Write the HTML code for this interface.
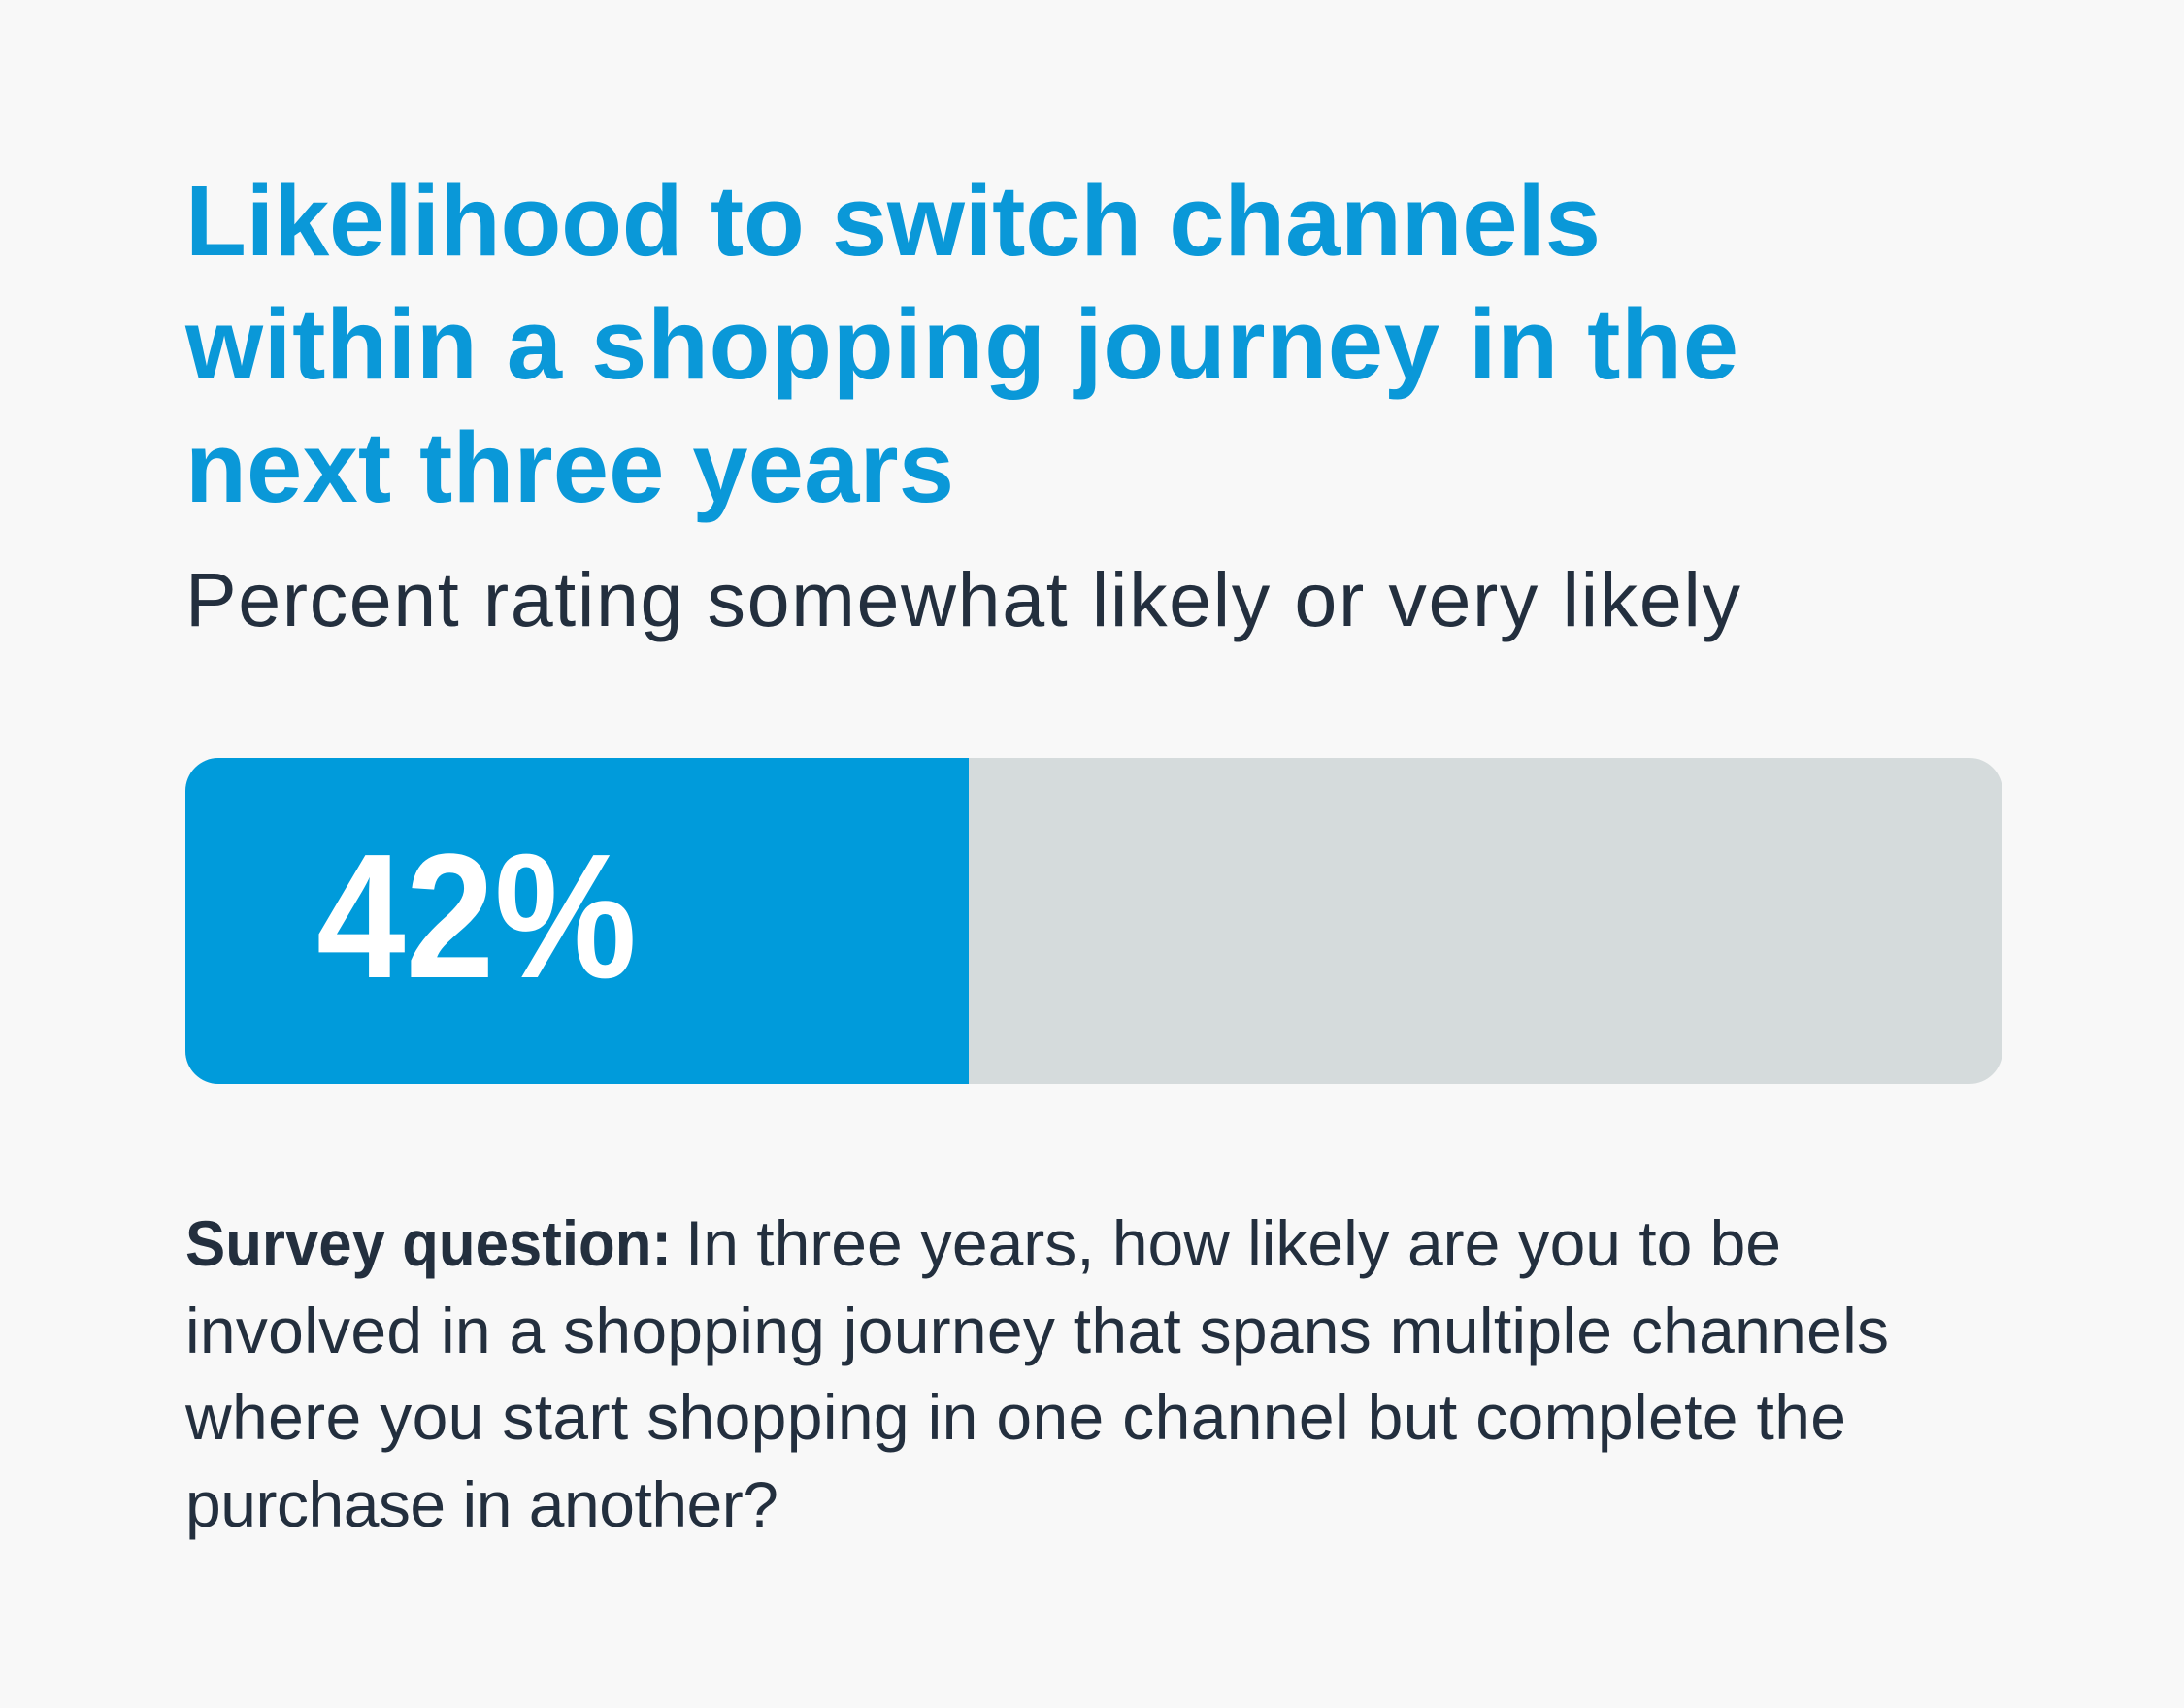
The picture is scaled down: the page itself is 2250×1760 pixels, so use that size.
<!DOCTYPE html>
<html>
<head>
<meta charset="utf-8">
<style>
  html, body { margin: 0; padding: 0; background: #f8f8f8; }
  body { width: 2250px; height: 1760px; overflow: hidden; }
  svg { display: block; }
  .title { font-family: "Liberation Sans", sans-serif; font-weight: bold; font-size: 103px; fill: #0a98d8; }
  .sub { font-family: "Liberation Sans", sans-serif; font-size: 79px; fill: #232f3e; }
  .body { font-family: "Liberation Sans", sans-serif; font-size: 66px; fill: #232f3e; }
  .bold { font-weight: bold; }
  .pct { font-family: "Liberation Sans", sans-serif; font-weight: bold; font-size: 183px; fill: #ffffff; }
</style>
</head>
<body>
<svg width="2250" height="1760" viewBox="0 0 2250 1760" xmlns="http://www.w3.org/2000/svg">
  <rect x="0" y="0" width="2250" height="1760" fill="#f8f8f8"/>

  <!-- Title -->
  <text class="title" x="191" y="263" textLength="1458" lengthAdjust="spacing">Likelihood to switch channels</text>
  <text class="title" x="191" y="390" textLength="1600" lengthAdjust="spacing">within a shopping journey in the</text>
  <text class="title" x="191" y="517" textLength="792" lengthAdjust="spacing">next three years</text>

  <!-- Subtitle -->
  <text class="sub" x="191" y="645" textLength="1602" lengthAdjust="spacing">Percent rating somewhat likely or very likely</text>

  <!-- Bar -->
  <defs>
    <clipPath id="barclip">
      <rect x="191" y="781" width="1872" height="336" rx="34" ry="34"/>
    </clipPath>
  </defs>
  <g clip-path="url(#barclip)">
    <rect x="191" y="781" width="1872" height="336" fill="#d5dbdc"/>
    <rect x="191" y="781" width="807" height="336" fill="#009bdb"/>
  </g>
  <text class="pct" x="326" y="1007" textLength="330" lengthAdjust="spacingAndGlyphs">42%</text>

  <!-- Survey question -->
  <text class="body bold" x="191" y="1304" textLength="501" lengthAdjust="spacingAndGlyphs">Survey question:</text>
  <text class="body" x="706" y="1304" textLength="1129" lengthAdjust="spacing">In three years, how likely are you to be</text>
  <text class="body" x="191" y="1394" textLength="1755" lengthAdjust="spacing">involved in a shopping journey that spans multiple channels</text>
  <text class="body" x="191" y="1483" textLength="1711" lengthAdjust="spacing">where you start shopping in one channel but complete the</text>
  <text class="body" x="191" y="1573" textLength="611" lengthAdjust="spacing">purchase in another?</text>
</svg>
</body>
</html>
